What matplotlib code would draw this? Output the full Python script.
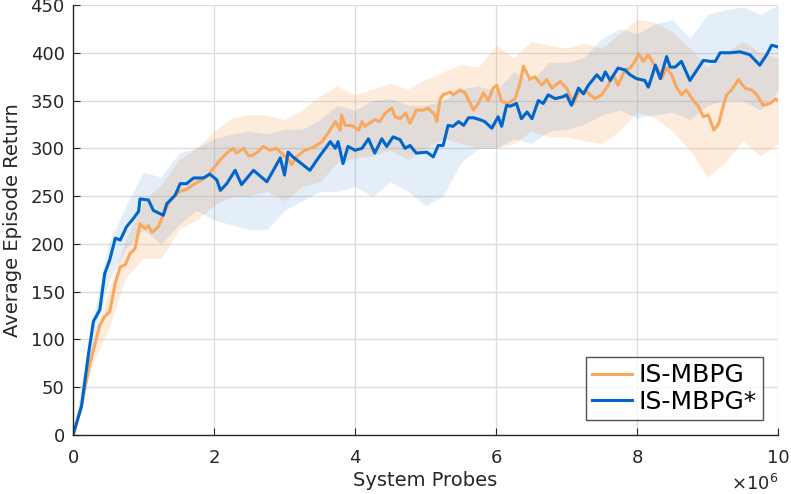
import matplotlib
matplotlib.use('Agg')
import matplotlib.pyplot as plt
import numpy as np

# mean curves (x in units of 1e6 probes)
is_x = [0, 0.12, 0.24, 0.34, 0.38, 0.45, 0.52, 0.6, 0.67, 0.74, 0.81, 0.88, 0.95, 1.02, 1.07, 1.12,
        1.21, 1.28, 1.35, 1.42, 1.52, 1.61, 1.73, 1.83, 1.92, 1.99, 2.09, 2.18, 2.27, 2.32, 2.42,
        2.49, 2.56, 2.63, 2.70, 2.79, 2.89, 2.98, 3.04, 3.1, 3.17, 3.29, 3.41, 3.53, 3.62, 3.72,
        3.79, 3.81, 3.86, 3.95, 4.05, 4.1, 4.14, 4.28, 4.35, 4.43, 4.52, 4.57, 4.64, 4.72, 4.78,
        4.87, 4.97, 5.04, 5.13, 5.16, 5.21, 5.25, 5.35, 5.39, 5.49, 5.56, 5.62, 5.68, 5.75, 5.82,
        5.89, 5.96, 6.01, 6.08, 6.17, 6.27, 6.34, 6.39, 6.48, 6.55, 6.65, 6.72, 6.79, 6.91, 7.0,
        7.1, 7.17, 7.29, 7.40, 7.5, 7.59, 7.66, 7.73, 7.83, 7.9, 7.97, 8.02, 8.09, 8.16, 8.23,
        8.30, 8.35, 8.42, 8.49, 8.56, 8.63, 8.70, 8.80, 8.87, 8.94, 9.01, 9.09, 9.16, 9.20, 9.27,
        9.34, 9.44, 9.53, 9.63, 9.70, 9.79, 9.89, 9.96, 10]
is_y = [0, 30, 75, 103, 115, 124, 129, 159, 176, 178, 190, 195, 221, 216, 219, 212,
        218, 230, 242, 249, 255, 257, 263, 267, 272, 279, 288, 295, 300, 295, 300,
        292, 293, 297, 302, 298, 300, 293, 290, 283, 291, 298, 301, 307, 316, 328,
        319, 335, 324, 324, 319, 328, 323, 330, 328, 337, 342, 333, 331, 337, 326,
        340, 340, 342, 335, 328, 352, 356, 359, 356, 361, 358, 349, 340, 347, 358,
        350, 363, 366, 349, 347, 352, 368, 386, 372, 375, 366, 372, 363, 370, 363,
        347, 359, 359, 352, 356, 366, 377, 366, 382, 384, 391, 399, 391, 398, 389,
        382, 373, 384, 377, 364, 356, 361, 350, 344, 333, 335, 319, 326, 338, 356,
        361, 372, 363, 361, 356, 345, 347, 352, 350]

star_x = [0, 0.12, 0.22, 0.29, 0.38, 0.45, 0.52, 0.6, 0.67, 0.76, 0.85, 0.93, 0.95, 1.07, 1.14,
          1.28, 1.33, 1.45, 1.52, 1.61, 1.71, 1.85, 1.94, 2.04, 2.09, 2.18, 2.30, 2.39, 2.56,
          2.75, 2.94, 3.0, 3.05, 3.12, 3.36, 3.48, 3.65, 3.72, 3.76, 3.83, 3.9, 4.0, 4.1, 4.19,
          4.28, 4.38, 4.45, 4.54, 4.64, 4.71, 4.78, 4.87, 5.02, 5.11, 5.18, 5.25, 5.32, 5.39,
          5.47, 5.54, 5.61, 5.68, 5.77, 5.84, 5.94, 6.03, 6.08, 6.15, 6.2, 6.29, 6.36, 6.44,
          6.51, 6.6, 6.67, 6.74, 6.84, 6.95, 7.0, 7.07, 7.17, 7.24, 7.31, 7.43, 7.5, 7.55, 7.62,
          7.73, 7.83, 7.9, 7.99, 8.11, 8.16, 8.21, 8.26, 8.33, 8.42, 8.47, 8.54, 8.63, 8.75,
          8.85, 8.94, 9.04, 9.11, 9.18, 9.32, 9.46, 9.6, 9.74, 9.84, 9.91, 10]
star_y = [0, 30, 85, 119, 131, 169, 183, 206, 204, 218, 226, 234, 247, 246, 235,
          230, 242, 251, 263, 263, 269, 269, 273, 267, 256, 263, 277, 262, 277,
          265, 290, 272, 296, 291, 277, 290, 307, 300, 307, 284, 302, 298, 300, 310,
          295, 310, 302, 312, 309, 300, 303, 295, 296, 291, 303, 303, 324, 323,
          328, 324, 332, 332, 330, 328, 321, 333, 323, 345, 344, 347, 331, 338,
          331, 350, 347, 356, 352, 354, 356, 345, 363, 357, 366, 377, 371, 380, 371,
          384, 382, 377, 373, 371, 364, 375, 387, 373, 396, 385, 385, 391, 371,
          382, 392, 391, 391, 400, 400, 401, 398, 387, 398, 408, 406]

# shaded spread, read on a coarser grid
band_x = [0, 0.25, 0.5, 0.75, 1.0, 1.25, 1.5, 1.75, 2.0, 2.25, 2.5, 2.75, 3.0, 3.25, 3.5,
          3.75, 4.0, 4.25, 4.5, 4.75, 5.0, 5.25, 5.5, 5.75, 6.0, 6.25, 6.5, 6.75, 7.0,
          7.25, 7.5, 7.75, 8.0, 8.25, 8.5, 8.75, 9.0, 9.25, 9.5, 9.75, 10.0]
is_lo = [0, 70, 110, 165, 185, 185, 215, 225, 240, 250, 250, 255, 245, 260, 265,
         285, 290, 292, 298, 288, 300, 310, 305, 300, 300, 305, 318, 312, 312,
         308, 305, 318, 338, 332, 318, 298, 270, 285, 308, 292, 305]
is_hi = [0, 90, 150, 205, 245, 262, 288, 300, 318, 332, 335, 335, 330, 340, 355,
         365, 356, 362, 368, 362, 372, 380, 388, 385, 408, 395, 412, 408, 405,
         410, 405, 420, 435, 432, 422, 405, 385, 400, 412, 400, 395]
star_lo = [0, 85, 160, 195, 215, 200, 220, 235, 225, 220, 215, 215, 235, 245, 255,
           255, 260, 250, 265, 255, 240, 250, 285, 300, 300, 310, 305, 318, 320,
           325, 335, 340, 332, 335, 338, 330, 345, 350, 350, 340, 360]
star_hi = [0, 110, 200, 240, 275, 270, 295, 300, 310, 315, 318, 315, 320, 320, 330,
           345, 340, 350, 352, 345, 345, 350, 362, 365, 360, 380, 370, 390, 390,
           395, 415, 425, 420, 430, 435, 415, 440, 445, 448, 440, 450]

c_is = '#F9A85F'
c_star = '#0066CC'

plt.rcParams['font.family'] = ['DejaVu Sans']

fig = plt.figure(figsize=(7.91, 4.94), dpi=100)
ax = fig.add_axes([0.0923, 0.1194, 0.8913, 0.8705])

# orange band + line first, blue band goes over the orange line
ax.fill_between(band_x, is_lo, is_hi, color=c_is, alpha=0.22, lw=0)
ax.plot(is_x, is_y, color=c_is, lw=2.2, label='IS-MBPG')
ax.fill_between(band_x, star_lo, star_hi, color=c_star, alpha=0.11, lw=0)
ax.plot(star_x, star_y, color=c_star, lw=2.2, label='IS-MBPG*')

ax.set_xlim(0, 10)
ax.set_ylim(0, 450)
ax.set_xticks([0, 2, 4, 6, 8, 10])
ax.set_yticks(np.arange(0, 451, 50))

# x axis shown as probes x 10^6
ax.set_xticklabels(['0', '2', '4', '6', '8', '10'])
ax.text(1.0, -0.09, r'$\times10^{6}$', transform=ax.transAxes, ha='right', va='top',
        fontsize=13, color='#262626')

ax.grid(True, color='#DCDCDC', lw=0.9)
ax.set_axisbelow(True)
ax.spines['top'].set_visible(False)
ax.spines['right'].set_visible(False)
for s in ['left', 'bottom']:
    ax.spines[s].set_color('#262626')
    ax.spines[s].set_linewidth(1.0)
ax.tick_params(direction='in', length=5, labelsize=13, colors='#262626')
ax.tick_params(axis='x', pad=10)
ax.tick_params(axis='y', pad=6)

ax.set_xlabel('System Probes', fontsize=14, color='#262626', labelpad=3)
ax.set_ylabel('Average Episode Return', fontsize=14, color='#262626', labelpad=6)

leg = ax.legend(loc='lower right', fontsize=18, frameon=True, fancybox=False,
                handlelength=1.6, borderaxespad=0.6, handletextpad=0.25,
                borderpad=0.25, labelspacing=0.1)
leg.get_frame().set_edgecolor('#262626')
leg.get_frame().set_linewidth(1.0)

plt.savefig('out.png', dpi=100)
plt.close()
